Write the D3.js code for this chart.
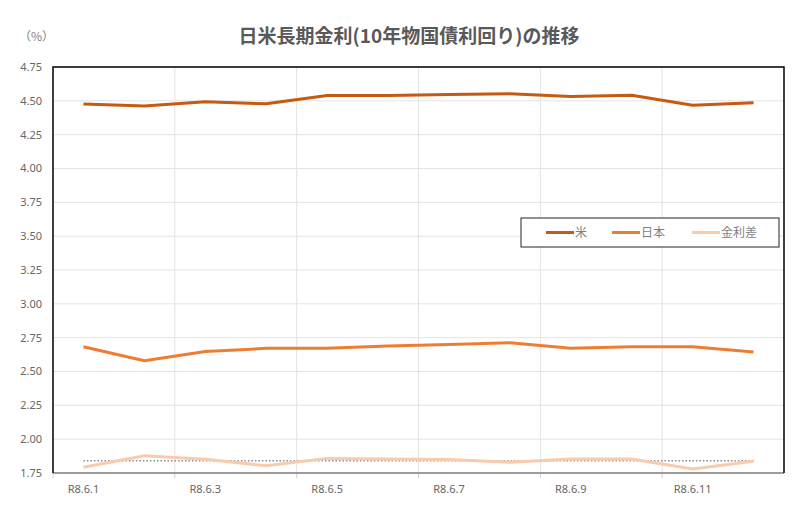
<!DOCTYPE html>
<html>
<head>
<meta charset="utf-8">
<script src="https://d3js.org/d3.v7.min.js"></script>
<style>
body { margin: 0; background: #fff; }
svg { font-family: "Noto Sans CJK JP", "Noto Sans", sans-serif; }
</style>
</head>
<body>
<svg id="chart" width="800" height="511"></svg>
<script>
// 日付（R8.6.1 - R8.6.12）
const dates = ["R8.6.1", "R8.6.2", "R8.6.3", "R8.6.4", "R8.6.5", "R8.6.6",
               "R8.6.7", "R8.6.8", "R8.6.9", "R8.6.10", "R8.6.11", "R8.6.12"];
const us     = [4.476, 4.461, 4.493, 4.478, 4.54, 4.54, 4.547, 4.552, 4.532, 4.542, 4.468, 4.485];
const japan  = [2.683, 2.58, 2.647, 2.671, 2.671, 2.688, 2.70, 2.713, 2.671, 2.683, 2.683, 2.644];
const spread = [1.792, 1.877, 1.851, 1.804, 1.858, 1.853, 1.85, 1.83, 1.853, 1.853, 1.78, 1.836];
const spreadAvg = 1.84;
const yTicks = [1.75, 2.00, 2.25, 2.50, 2.75, 3.00, 3.25, 3.50, 3.75, 4.00, 4.25, 4.50, 4.75];
const seriesNames = ["米", "日本", "金利差"];
const colors = ["#C55A11", "#ED7D31", "#F8CBAD"];

const mLeft = 53, mRight = 784, mTop = 67, mBottom = 473;
const svg = d3.select("#chart");

const x = d3.scaleBand().domain(dates).range([mLeft, mRight]);
const y = d3.scaleLinear().domain([1.75, 4.75]).range([mBottom, mTop]);

// 横グリッド
svg.append("g").selectAll("line").data(yTicks).enter().append("line")
  .attr("x1", mLeft).attr("x2", mRight)
  .attr("y1", d => y(d)).attr("y2", d => y(d))
  .attr("stroke", "#e3e3e3").attr("stroke-width", 1);

// 縦グリッド（2日ごと）
const vTicks = dates.filter((d, i) => i % 2 == 0 && i > 0);
svg.append("g").selectAll("line").data(vTicks).enter().append("line")
  .attr("x1", d => x(d)).attr("x2", d => x(d))
  .attr("y1", mTop).attr("y2", mBottom)
  .attr("stroke", "#e3e3e3").attr("stroke-width", 1);

// y軸ラベル
svg.append("g").selectAll("text").data(yTicks).enter().append("text")
  .attr("x", 42).attr("y", d => y(d)).attr("dy", "0.35em")
  .attr("text-anchor", "end")
  .attr("font-size", 11).attr("fill", "#666")
  .attr("font-family", "'Noto Sans', sans-serif")
  .text(d => d.toFixed(2));

// x軸
const xAxis = d3.axisBottom(x)
  .tickValues(dates.filter((d, i) => i % 2 == 0))
  .tickSize(0).tickPadding(12);
const gx = svg.append("g")
  .attr("transform", "translate(0," + mBottom + ")")
  .call(xAxis);
gx.select(".domain").remove();
gx.selectAll("text").attr("font-size", 11).attr("fill", "#666")
  .attr("font-family", "'Noto Sans', sans-serif");
// x軸の目盛り（カテゴリ境界）
svg.append("g").selectAll("line").data(dates.filter((d, i) => i % 2 == 0)).enter().append("line")
  .attr("x1", d => x(d)).attr("x2", d => x(d))
  .attr("y1", mBottom).attr("y2", mBottom + 5)
  .attr("stroke", "#d0d0d0");

// 枠
svg.append("line").attr("x1", mLeft).attr("x2", mRight).attr("y1", mBottom).attr("y2", mBottom)
  .attr("stroke", "#7f7f7f").attr("stroke-width", 1.5);
svg.append("path")
  .attr("d", "M" + mLeft + "," + mBottom + "V" + mTop + "H" + mRight + "V" + mBottom)
  .attr("fill", "none").attr("stroke", "#000").attr("stroke-width", 1.5);

// 折れ線
const line = d3.line()
  .x((d, i) => x(dates[i]) + x.bandwidth() / 2)
  .y(d => y(d));

// 金利差の平均（点線）
svg.append("line")
  .attr("x1", x(dates[0]) + x.bandwidth() / 2)
  .attr("x2", x(dates[dates.length - 1]) + x.bandwidth() / 2)
  .attr("y1", y(spreadAvg)).attr("y2", y(spreadAvg))
  .attr("stroke", "#8c8c8c").attr("stroke-width", 1.5)
  .attr("stroke-dasharray", "1.5,2");

[us, japan, spread].forEach((s, k) => {
  svg.append("path").datum(s)
    .attr("d", line)
    .attr("fill", "none")
    .attr("stroke", colors[k])
    .attr("stroke-width", 3)
    .attr("stroke-linejoin", "round");
});

// タイトル
svg.append("text")
  .attr("x", 409).attr("y", 43)
  .attr("text-anchor", "middle")
  .attr("font-size", 19).attr("font-weight", "bold").attr("fill", "#595959")
  .text("日米長期金利(10年物国債利回り)の推移");
svg.append("text")
  .attr("x", 19).attr("y", 41)
  .attr("font-size", 12).attr("fill", "#7f7f7f")
  .text("（%）");

// 凡例
const lg = svg.append("g");
lg.append("rect").attr("x", 521).attr("y", 218).attr("width", 258).attr("height", 29)
  .attr("fill", "#fff").attr("stroke", "#222").attr("stroke-width", 1);
const legX = [546, 612, 692];
seriesNames.forEach((n, k) => {
  lg.append("line")
    .attr("x1", legX[k]).attr("x2", legX[k] + 28)
    .attr("y1", 232.5).attr("y2", 232.5)
    .attr("stroke", colors[k]).attr("stroke-width", 3);
  lg.append("text")
    .attr("x", legX[k] + 29).attr("y", 232.5).attr("dy", "0.36em")
    .attr("font-size", 12).attr("fill", "#7f7f7f")
    .text(n);
});
</script>
</body>
</html>
